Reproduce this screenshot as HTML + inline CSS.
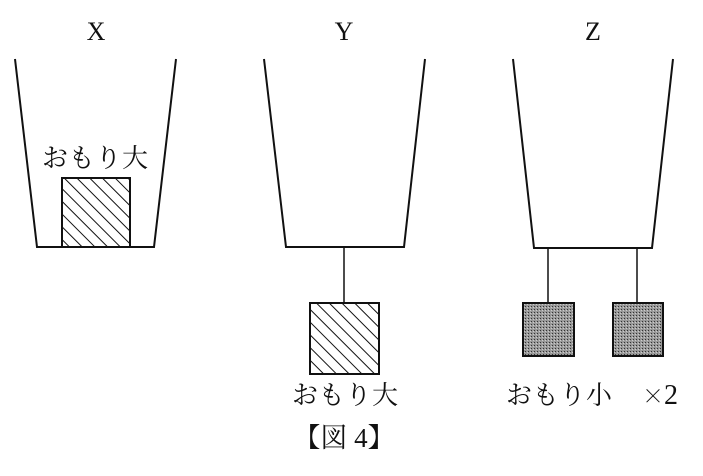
<!DOCTYPE html>
<html><head><meta charset="utf-8"><style>
html,body{margin:0;padding:0;background:#fff;}
svg{display:block;}
text{font-family:"Liberation Serif","Noto Serif CJK SC",serif;fill:#111;}
</style></head><body>
<svg width="703" height="476" viewBox="0 0 703 476" xmlns="http://www.w3.org/2000/svg">
<defs>
<pattern id="h" patternUnits="userSpaceOnUse" width="9" height="9" patternTransform="rotate(-45)">
<line x1="0" y1="0" x2="0" y2="9" stroke="#111" stroke-width="2"/>
</pattern>
<pattern id="d" patternUnits="userSpaceOnUse" width="3" height="3">
<rect width="3" height="3" fill="#999"/><rect width="1" height="1" fill="#333"/><rect x="2" y="1" width="1" height="1" fill="#ccc"/>
</pattern>
</defs>
<g fill="none" stroke="#111" stroke-width="2">
<polyline points="15,59 37,247 154,247 176,59"/>
<polyline points="264,59 286,247 404,247 425,59"/>
<polyline points="513,59 534,248 652,248 673,59"/>
<line x1="344" y1="247" x2="344" y2="303" stroke-width="1.5"/>
<line x1="548" y1="248" x2="548" y2="303" stroke-width="1.5"/>
<line x1="637" y1="248" x2="637" y2="303" stroke-width="1.5"/>
</g>
<rect x="62" y="178" width="68" height="69" fill="url(#h)" stroke="#111" stroke-width="2"/>
<rect x="310" y="303" width="69" height="71" fill="url(#h)" stroke="#111" stroke-width="2"/>
<rect x="523" y="303" width="51" height="53" fill="url(#d)" stroke="#111" stroke-width="2"/>
<rect x="613" y="303" width="50" height="53" fill="url(#d)" stroke="#111" stroke-width="2"/>
<text x="96" y="40" font-size="26" text-anchor="middle">X</text>
<text x="344" y="40" font-size="26" text-anchor="middle">Y</text>
<text x="593" y="40" font-size="26" text-anchor="middle">Z</text>
<text x="42" y="167" font-size="26" textLength="106">おもり大</text>
<text x="292" y="404" font-size="26" textLength="106">おもり大</text>
<text x="506" y="404" font-size="26" textLength="106">おもり小</text>
<text x="642" y="404" font-size="26"><tspan font-family="Noto Serif CJK SC" font-size="22">×</tspan><tspan font-size="28">2</tspan></text>
<text x="344" y="447" font-size="27" text-anchor="middle">【図 4】</text>
</svg>
</body></html>
